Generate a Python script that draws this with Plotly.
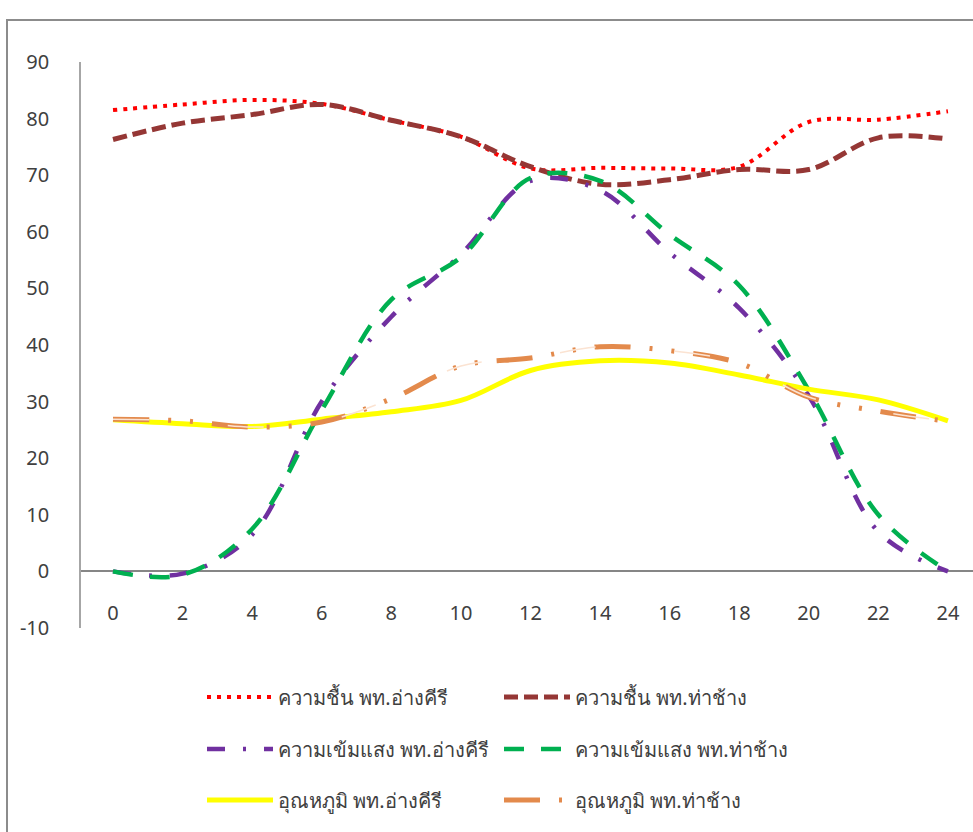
import plotly.graph_objects as go

hours = [0, 2, 4, 6, 8, 10, 12, 14, 16, 18, 20, 22, 24]

hum_angkhiri = [81.5, 82.5, 83.3, 82.6, 79.7, 76.8, 71.2, 71.3, 71.2, 71.5, 79.4, 79.8, 81.3]
hum_thachang = [76.3, 79.2, 80.7, 82.5, 79.7, 76.8, 71.5, 68.4, 69.2, 71.0, 71.0, 76.6, 76.4]
light_angkhiri = [0, -0.4, 6.5, 30, 45, 56, 69, 67.3, 56.3, 46.5, 31, 7, 0]
light_thachang = [0, -0.6, 7.5, 28.5, 48, 55.5, 69.5, 69.0, 59.5, 50.5, 32, 10, 0]
temp_angkhiri = [26.8, 26.1, 25.6, 26.9, 28.2, 30.2, 35.5, 37.2, 36.8, 34.7, 32.2, 30.3, 26.6]
temp_thachang = [26.9, 26.6, 25.5, 26.4, 30.5, 36.3, 37.7, 39.7, 39.0, 36.8, 30.8, 28.3, 26.5]

names = [
    "ความชื้น พท.อ่างคีรี",
    "ความชื้น พท.ท่าช้าง",
    "ความเข้มแสง พท.อ่างคีรี",
    "ความเข้มแสง พท.ท่าช้าง",
    "อุณหภูมิ พท.อ่างคีรี",
    "อุณหภูมิ พท.ท่าช้าง",
]

x_ticks = list(range(0, 25, 2))
y_ticks = list(range(-10, 91, 10))
y_ticktext = [str(v) for v in y_ticks]

FONT = "Tahoma, 'Noto Sans', 'DejaVu Sans', sans-serif"
TXT = "#404040"

fig = go.Figure()

def add(y, name, color, width, dash, legend):
    fig.add_trace(go.Scatter(
        x=hours, y=y, name=name, mode="lines", legend=legend,
        line=dict(color=color, width=width, dash=dash, shape="spline", smoothing=1),
    ))

add(hum_angkhiri, names[0], "#FF0000", 4, "4px,6px", "legend")
add(hum_thachang, names[1], "#953735", 5, "14px,6px", "legend")
add(light_angkhiri, names[2], "#7030A0", 4.5, "18px,18px,3px,18px", "legend2")
add(light_thachang, names[3], "#00B050", 4.5, "20px,17px", "legend2")
add(temp_angkhiri, names[4], "#FFFF00", 5, "solid", "legend3")
add(temp_thachang, names[5], "#E38A4C", 5, "36px,19px,3px,19px,3px,19px", "legend3")
# inner light stroke of the compound orange line
fig.add_trace(go.Scatter(
    x=hours, y=temp_thachang, mode="lines", showlegend=False, hoverinfo="skip",
    line=dict(color="#FBE3D2", width=1.5, dash="36px,79px", shape="spline", smoothing=1),
))

def leg(ypx):
    return dict(
        orientation="h", x=(202 - 81) / 892, xanchor="left",
        y=1 - (ypx - 62) / 566, yanchor="middle",
        itemwidth=66, entrywidth=216, bgcolor="rgba(0,0,0,0)",
        font=dict(family=FONT, size=20, color=TXT), traceorder="normal",
    )

fig.update_layout(
    width=973, height=832,
    margin=dict(l=81, r=0, t=62, b=204),
    paper_bgcolor="white", plot_bgcolor="white",
    font=dict(family=FONT, size=20, color=TXT),
    xaxis=dict(range=[-0.92, 24.72], tickvals=x_ticks, ticks="", showgrid=False,
               zeroline=False, showline=False, ticklabelstandoff=-29,
               tickfont=dict(family=FONT, size=20, color=TXT)),
    yaxis=dict(range=[-10, 90], tickvals=y_ticks, ticktext=y_ticktext, ticks="",
               showgrid=False,
               zeroline=True, zerolinecolor="#868686", zerolinewidth=1.5,
               showline=True, linecolor="#A6A6A6", linewidth=1.5,
               ticklabelstandoff=26,
               tickfont=dict(family=FONT, size=20, color=TXT)),
    legend=leg(697), legend2=leg(749), legend3=leg(800),
    showlegend=True,
    shapes=[dict(type="rect", xref="paper", yref="paper",
                 x0=(7 - 81) / 892, x1=1.05, y0=-0.5, y1=1 + (62 - 20) / 566,
                 line=dict(color="#8C8C8C", width=2), fillcolor="rgba(0,0,0,0)", layer="below")],
)

fig.write_html("out.html", config={"displayModeBar": False},
               post_script="document.body.style.margin='0';")
